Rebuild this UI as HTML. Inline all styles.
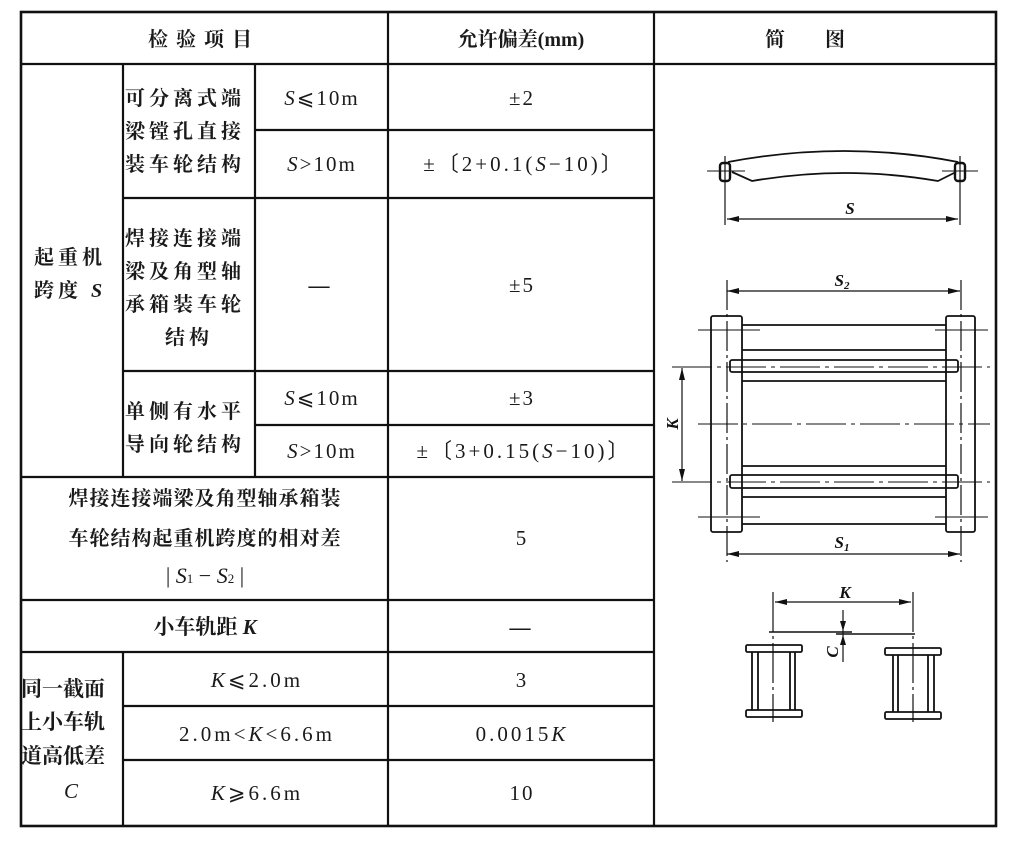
<!DOCTYPE html>
<html><head><meta charset="utf-8"><style>
html,body{margin:0;padding:0;background:#fff;}
svg{display:block}
.t{font-family:"Liberation Serif","Noto Serif CJK SC","Noto Sans CJK SC",serif;font-size:20px;fill:#1a1a1a;font-weight:bold}
.n{font-family:"Liberation Serif","Noto Sans CJK SC",serif;font-size:21px;fill:#1a1a1a;letter-spacing:2px}
.i{font-style:italic}
</style></head><body>
<svg width="1019" height="843" viewBox="0 0 1019 843" xmlns="http://www.w3.org/2000/svg">
<rect width="1019" height="843" fill="#fff"/>
<g stroke="#111" stroke-width="2.2" fill="none">
<rect x="21" y="12" width="975" height="814" stroke-width="2.6"/>
<line x1="21" y1="64" x2="996" y2="64"/>
<line x1="388" y1="12" x2="388" y2="826"/>
<line x1="654" y1="12" x2="654" y2="826"/>
<line x1="123" y1="64" x2="123" y2="477"/>
<line x1="255" y1="64" x2="255" y2="477"/>
<line x1="255" y1="130" x2="654" y2="130"/>
<line x1="123" y1="198" x2="654" y2="198"/>
<line x1="123" y1="371" x2="654" y2="371"/>
<line x1="255" y1="425" x2="654" y2="425"/>
<line x1="21" y1="477" x2="654" y2="477"/>
<line x1="21" y1="600" x2="654" y2="600"/>
<line x1="21" y1="652" x2="654" y2="652"/>
<line x1="123" y1="652" x2="123" y2="826"/>
<line x1="123" y1="706" x2="654" y2="706"/>
<line x1="123" y1="760" x2="654" y2="760"/>
</g>
<g class="t" text-anchor="middle">
<text x="204" y="46" letter-spacing="8">检验项目</text>
<text x="521" y="46">允许偏差(mm)</text>
<text x="825" y="46" letter-spacing="40">简图</text>
</g>
<g class="t" letter-spacing="4">
<text x="125" y="105">可分离式端</text>
<text x="125" y="138">梁镗孔直接</text>
<text x="125" y="171">装车轮结构</text>
<text x="125" y="245">焊接连接端</text>
<text x="125" y="278">梁及角型轴</text>
<text x="125" y="311">承箱装车轮</text>
<text x="165" y="344">结构</text>
<text x="125" y="418">单侧有水平</text>
<text x="125" y="451">导向轮结构</text>
<text x="34" y="264">起重机</text>
<text x="34" y="297">跨度 <tspan class="i">S</tspan></text>
<text x="21" y="696" letter-spacing="0" font-size="21">同一截面</text>
<text x="21" y="729" letter-spacing="0" font-size="21">上小车轨</text>
<text x="21" y="763" letter-spacing="0" font-size="21">道高低差</text>
</g>
<g class="t" text-anchor="middle">
<text x="205" y="505" letter-spacing="1">焊接连接端梁及角型轴承箱装</text>
<text x="205" y="545" letter-spacing="1">车轮结构起重机跨度的相对差</text>
<text x="205" y="583" font-weight="normal" font-size="22">| <tspan class="i">S</tspan><tspan font-size="13">1</tspan> − <tspan class="i">S</tspan><tspan font-size="13">2</tspan> |</text>
<text x="205" y="634" font-size="21">小车轨距 <tspan class="i">K</tspan></text>
</g>
<g class="n" text-anchor="middle">
<text x="322" y="105"><tspan class="i">S</tspan>⩽10m</text>
<text x="322" y="171"><tspan class="i">S</tspan>&gt;10m</text>
<text x="320" y="292" font-weight="bold">—</text>
<text x="322" y="405"><tspan class="i">S</tspan>⩽10m</text>
<text x="322" y="458"><tspan class="i">S</tspan>&gt;10m</text>
<text x="522" y="105">±2</text>
<text x="524" y="171" letter-spacing="3">±〔2+0.1(<tspan class="i">S</tspan>−10)〕</text>
<text x="522" y="292">±5</text>
<text x="522" y="405">±3</text>
<text x="524" y="458" letter-spacing="3">±〔3+0.15(<tspan class="i">S</tspan>−10)〕</text>
<text x="522" y="545">5</text>
<text x="521" y="634" font-weight="bold">—</text>
<text x="522" y="687">3</text>
<text x="522" y="741" letter-spacing="3">0.0015<tspan class="i">K</tspan></text>
<text x="522" y="800">10</text>
<text x="257" y="687" letter-spacing="3"><tspan class="i">K</tspan>⩽2.0m</text>
<text x="257" y="741" letter-spacing="3">2.0m&lt;<tspan class="i">K</tspan>&lt;6.6m</text>
<text x="257" y="800" letter-spacing="3"><tspan class="i">K</tspan>⩾6.6m</text>
<text x="72" y="798" class="i">C</text>
</g>
<!-- diagram -->
<g stroke="#111" stroke-width="1.8" fill="none">
<path d="M728 162 Q845 140 958 162"/>
<path d="M732 172 L752 181 Q845 165 938 181 L956 172"/>
<rect x="720" y="163" width="10" height="18" rx="3" stroke-width="2.4"/>
<rect x="955" y="163" width="10" height="18" rx="3" stroke-width="2.4"/>
<line x1="707" y1="171" x2="745" y2="171" stroke-width="1"/>
<line x1="942" y1="171" x2="978" y2="171" stroke-width="1"/>
<line x1="725" y1="156" x2="725" y2="225" stroke-width="1.2"/>
<line x1="960" y1="156" x2="960" y2="225" stroke-width="1.2"/>
<line x1="727" y1="219" x2="958" y2="219" stroke-width="1.2"/>
<line x1="727" y1="291" x2="960" y2="291" stroke-width="1.2"/>
<line x1="727" y1="554" x2="960" y2="554" stroke-width="1.2"/>
<line x1="727" y1="280" x2="727" y2="562" stroke-width="1.2" stroke-dasharray="30 4 3 4"/>
<line x1="961" y1="280" x2="961" y2="562" stroke-width="1.2" stroke-dasharray="30 4 3 4"/>
<rect x="711" y="316" width="31" height="216" rx="2"/>
<rect x="946" y="316" width="29" height="216" rx="2"/>
<line x1="742" y1="325" x2="946" y2="325"/>
<line x1="742" y1="350" x2="946" y2="350"/>
<line x1="742" y1="381" x2="946" y2="381"/>
<line x1="742" y1="466" x2="946" y2="466"/>
<line x1="742" y1="497" x2="946" y2="497"/>
<line x1="742" y1="524" x2="946" y2="524"/>
<rect x="730" y="360" width="228" height="12" rx="2"/>
<rect x="730" y="475" width="228" height="13" rx="2"/>
<g stroke-width="1">
<line x1="698" y1="330" x2="760" y2="330"/>
<line x1="935" y1="330" x2="988" y2="330"/>
<line x1="698" y1="517" x2="760" y2="517"/>
<line x1="935" y1="517" x2="988" y2="517"/>
<line x1="672" y1="367" x2="990" y2="367" stroke-dasharray="40 5 4 5"/>
<line x1="698" y1="424" x2="990" y2="424" stroke-dasharray="40 5 4 5"/>
<line x1="672" y1="482" x2="990" y2="482" stroke-dasharray="40 5 4 5"/>
</g>
<line x1="682" y1="368" x2="682" y2="481" stroke-width="1.2"/>
<line x1="773" y1="592" x2="773" y2="722" stroke-width="1.2" stroke-dasharray="40 4 3 4"/>
<line x1="913" y1="592" x2="913" y2="722" stroke-width="1.2" stroke-dasharray="40 4 3 4"/>
<line x1="775" y1="602" x2="911" y2="602" stroke-width="1.2"/>
<line x1="769" y1="632" x2="852" y2="632" stroke-width="1.6"/>
<line x1="836" y1="634" x2="915" y2="634" stroke-width="1.4"/>
<line x1="843" y1="610" x2="843" y2="662" stroke-width="1.2"/>
<rect x="746" y="645" width="56" height="7" rx="1.5"/>
<rect x="746" y="710" width="56" height="7" rx="1.5"/>
<line x1="752" y1="652" x2="752" y2="710"/><line x1="758" y1="652" x2="758" y2="710"/>
<line x1="790" y1="652" x2="790" y2="710"/><line x1="795" y1="652" x2="795" y2="710"/>
<rect x="885" y="648" width="56" height="7" rx="1.5"/>
<rect x="885" y="712" width="56" height="7" rx="1.5"/>
<line x1="893" y1="655" x2="893" y2="712"/><line x1="898" y1="655" x2="898" y2="712"/>
<line x1="928" y1="655" x2="928" y2="712"/><line x1="934" y1="655" x2="934" y2="712"/>
</g>
<g fill="#111">
<path d="M727 219 l12 -3 v6z"/><path d="M958 219 l-12 -3 v6z"/>
<path d="M727 291 l12 -3 v6z"/><path d="M960 291 l-12 -3 v6z"/>
<path d="M727 554 l12 -3 v6z"/><path d="M960 554 l-12 -3 v6z"/>
<path d="M682 368 l-3 12 h6z"/><path d="M682 481 l-3 -12 h6z"/>
<path d="M775 602 l12 -3 v6z"/><path d="M911 602 l-12 -3 v6z"/>
<path d="M843 631 l-3 -10 h6z"/><path d="M843 635 l-3 10 h6z"/>
</g>
<g font-family="Liberation Serif,serif" font-style="italic" font-weight="bold" font-size="17" fill="#111" text-anchor="middle">
<text x="850" y="214">S</text>
<text x="842" y="286">S<tspan font-size="11" dy="3">2</tspan></text>
<text x="842" y="548">S<tspan font-size="11" dy="3">1</tspan></text>
<text x="845" y="598">K</text>
<text transform="translate(678 424) rotate(-90)">K</text>
<text transform="translate(838 652) rotate(-90)">C</text>
</g>
</svg>
</body></html>
